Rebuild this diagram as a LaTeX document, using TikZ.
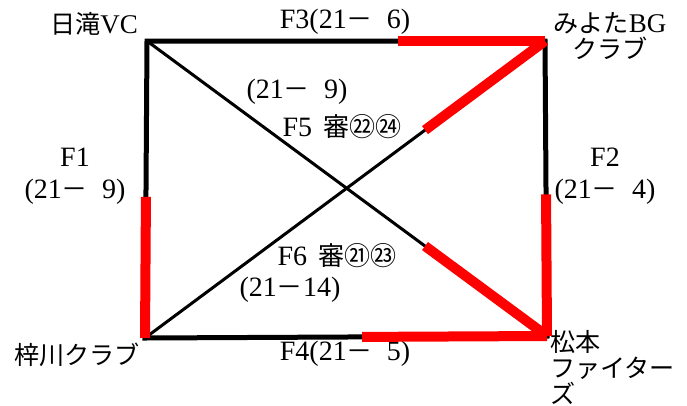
\documentclass[tikz,border=0pt]{standalone}
\usepackage{fontspec}
\setmainfont{Liberation Serif}
\newfontfamily\jp[Scale=0.93]{Noto Sans CJK JP}
\usetikzlibrary{calc}

% full-width dash
\newcommand{\km}{{\jp －}}

\begin{document}
\begin{tikzpicture}[
    x=1pt, y=-1pt,
    team/.style={inner sep=0pt, align=center, font=\fontsize{27}{26}\selectfont},
    score/.style={inner sep=0pt, align=center, font=\fontsize{28}{32}\selectfont},
    side/.style={line width=5pt, draw=black},
    cross/.style={line width=3pt, draw=black},
    win/.style={line width=10pt, draw=red}
]
\useasboundingbox (0,0) rectangle (687,405);

% Corners
\coordinate (hitaki) at (147,41);
\coordinate (miyota) at (545,41);
\coordinate (azusa) at (145,338);
\coordinate (matsu) at (547,336);

% Where the red part starts
\coordinate (f1_mid) at ($(hitaki)!0.525!(azusa)$);
\coordinate (f2_mid) at ($(miyota)!0.52!(matsu)$);
\coordinate (f3_mid) at ($(hitaki)!0.63!(miyota)$);
\coordinate (f4_mid) at ($(azusa)!0.54!(matsu)$);
\coordinate (f5_mid) at ($(azusa)!0.70!(miyota)$);
\coordinate (f6_mid) at ($(hitaki)!0.695!(matsu)$);

% Teams
\node[team] (hitaki_lbl) at (94,24) {{\jp 日滝}VC};
\node[team] (miyota_lbl) at (610,36) {{\jp みよた}BG\\{\jp クラブ}};
\node[team] (azusa_lbl) at (77,355) {{\jp 梓川クラブ}};
\node[team, anchor=north west, align=left] (matsu_lbl) at (550,330) {{\jp 松本}\\{\jp ファイター}\\{\jp ズ}};

% Matches
\node[score] (f1_lbl) at (75,176) {F1\\(21\km\hphantom{1}9)};
\node[score] (f2_lbl) at (605,176) {F2\\(21\km\hphantom{1}4)};
\node[score] (f3_lbl) at (345,22) {F3(21\km\hphantom{1}6)};
\node[score] (f4_lbl) at (345,354) {F4(21\km\hphantom{1}5)};
\node[score] (f5_score) at (297,92) {(21\km\hphantom{1}9)};
\node[score] (f5_lbl) at (342,127) {F5\hspace{0.4em}{\jp 審㉒㉔}};
\node[score] (f6_lbl) at (337,256) {F6\hspace{0.4em}{\jp 審㉑㉓}};
\node[score] (f6_score) at (290,290) {(21\km 14)};

% Lines
\draw[side] (hitaki) -- (miyota) -- (matsu) -- (azusa) -- cycle;
\draw[cross] (hitaki) -- (matsu);
\draw[cross] (azusa) -- (miyota);

\draw[win] (f1_mid) -- (azusa);
\draw[win] (f2_mid) -- (matsu);
\draw[win] (f3_mid) -- (miyota);
\draw[win] (f4_mid) -- (matsu);
\draw[win] (f5_mid) -- (miyota);
\draw[win] (f6_mid) -- (matsu);

\end{tikzpicture}
\end{document}
